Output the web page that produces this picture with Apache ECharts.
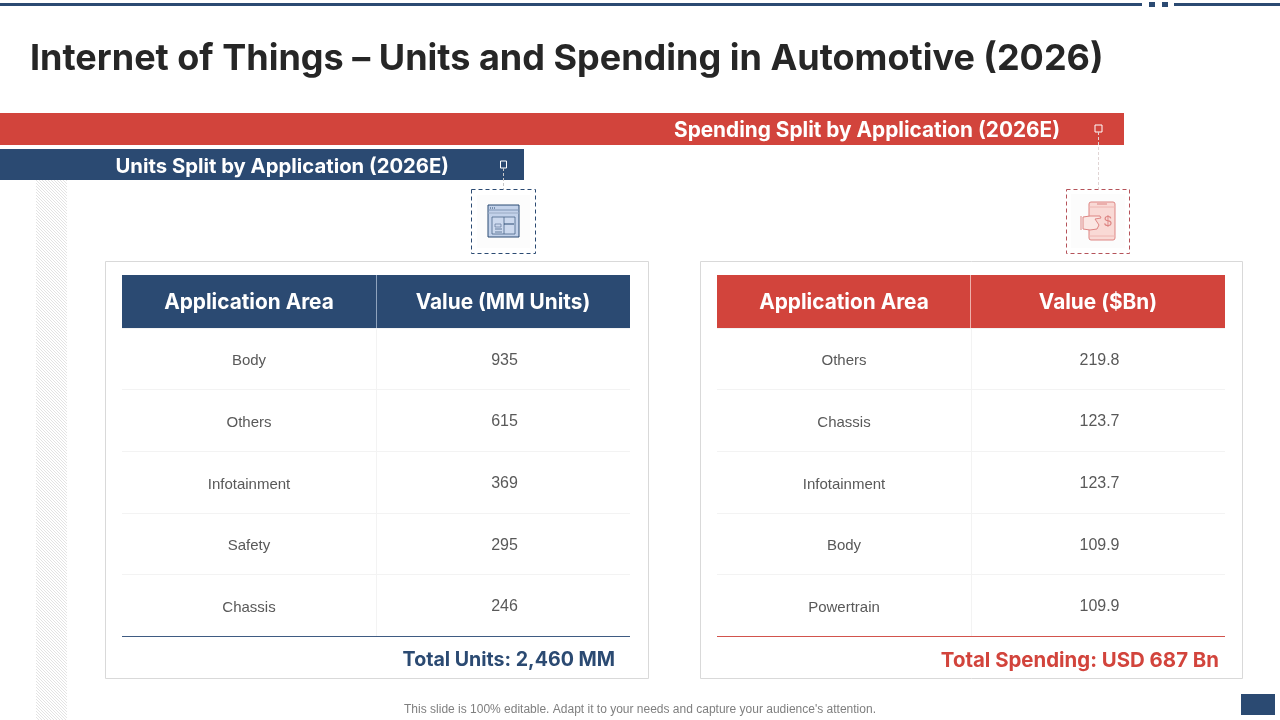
<!DOCTYPE html>
<html>
<head>
<meta charset="utf-8">
<title>Internet of Things - Units and Spending in Automotive</title>
<script src="https://cdn.jsdelivr.net/npm/echarts@6/dist/echarts.min.js"></script>
<style>
html, body { margin: 0; padding: 0; background: #fff; }
#mainChart { width: 1280px; height: 720px; }
</style>
</head>
<body>
<div id="mainChart"></div>
<script>
var unitAreas = ['Body', 'Others', 'Infotainment', 'Safety', 'Chassis'];
var unitValues = ['935', '615', '369', '295', '246'];
var unitHeaders = ['Application Area', 'Value (MM Units)'];
var unitTotal = 'Total Units: 2,460 MM';
var unitBanner = 'Units Split by Application (2026E)';

var spendAreas = ['Others', 'Chassis', 'Infotainment', 'Body', 'Powertrain'];
var spendValues = ['219.8', '123.7', '123.7', '109.9', '109.9'];
var spendHeaders = ['Application Area', 'Value ($Bn)'];
var spendTotal = 'Total Spending: USD 687 Bn';
var spendBanner = 'Spending Split by Application (2026E)';

var titleText = 'Internet of Things \u2013 Units and Spending in Automotive (2026)';
var footerText = "This slide is 100% editable. Adapt it to your needs and capture your audience's attention.";

var BLUE = '#2b4a72';
var RED = '#d2443c';
var HEAD_FONT = 'Inter, "Open Sans", sans-serif';
var BODY_FONT = '"Liberation Sans", Arial, sans-serif';

// diagonal hatch used by the band on the left
function hatchPattern() {
    var c = document.createElement('canvas');
    c.width = 3;
    c.height = 3;
    var ctx = c.getContext('2d');
    ctx.fillStyle = '#ffffff';
    ctx.fillRect(0, 0, 3, 3);
    ctx.strokeStyle = '#dcdcdc';
    ctx.lineWidth = 0.8;
    ctx.beginPath();
    ctx.moveTo(-1, -1); ctx.lineTo(4, 4);
    ctx.moveTo(-1, 2); ctx.lineTo(1, 4);
    ctx.moveTo(2, -1); ctx.lineTo(4, 1);
    ctx.stroke();
    return { image: c, repeat: 'repeat' };
}

function rect(x, y, w, h, style, z) {
    return { type: 'rect', shape: { x: x, y: y, width: w, height: h }, style: style, z: z === undefined ? -1 : z, silent: true };
}
function line(x1, y1, x2, y2, color, width, dash, z) {
    var style = { stroke: color, lineWidth: width };
    if (dash) style.lineDash = dash;
    return { type: 'line', shape: { x1: x1, y1: y1, x2: x2, y2: y2 }, style: style, z: z === undefined ? 5 : z, silent: true };
}
function label(x, y, str, color, size, weight, family, align) {
    return {
        type: 'text', x: x, y: y, z: 6, silent: true,
        style: { text: str, fill: color, fontSize: size, fontWeight: weight, fontFamily: family, align: align, verticalAlign: 'middle' }
    };
}

// one table: rows on a category y axis, columns on a category x axis
function tableGrid(index, left, headers, rows) {
    return {
        grid: { left: left, top: 328, width: 508, height: 308 },
        xAxis: {
            type: 'category', gridIndex: index, position: 'top', data: headers,
            axisLine: { show: false }, axisTick: { show: false },
            axisLabel: { color: '#ffffff', fontSize: 20.8, fontWeight: 700, fontFamily: HEAD_FONT, margin: 25, verticalAlign: 'middle' },
            splitLine: { show: true, showMinLine: false, showMaxLine: false, lineStyle: { color: '#f3f3f3', width: 1 } }
        },
        yAxis: {
            type: 'category', gridIndex: index, inverse: true, data: rows,
            axisLine: { show: false }, axisTick: { show: false }, axisLabel: { show: false },
            splitLine: { show: true, lineStyle: { color: '#f3f3f3', width: 1 } }
        }
    };
}

function renderCell(params, api) {
    var p = api.coord([api.value(0), api.value(1)]);
    var isArea = api.value(0) === 0;
    return {
        type: 'text', x: p[0] + (isArea ? 0 : 1.5), y: p[1] + (isArea ? 2.5 : 1.5),
        style: {
            text: api.value(2), fill: '#595959', fontSize: isArea ? 15 : 16, fontFamily: BODY_FONT,
            align: 'center', verticalAlign: 'middle'
        }
    };
}

function cellData(areas, values) {
    var out = [];
    for (var i = 0; i < areas.length; i++) {
        out.push([0, i, areas[i]]);
        out.push([1, i, values[i]]);
    }
    return out;
}

function tableSeries(index, areas, values) {
    return {
        type: 'custom', xAxisIndex: index, yAxisIndex: index, silent: true,
        encode: { x: 0, y: 1 },
        renderItem: renderCell,
        data: cellData(areas, values)
    };
}

function blueIcon() {
    var fill = '#c3d2ea';
    return [
        rect(488, 205, 31, 32, { fill: fill, stroke: BLUE, lineWidth: 1 }, 4),
        line(488, 210, 519, 210, '#7f94b3', 1),
        line(488, 213, 519, 213, '#9aabc4', 1),
        line(490, 208, 496, 208, BLUE, 1, [1, 1]),
        rect(492, 217, 23, 17, { fill: '#ccd9ee', stroke: '#4a6488', lineWidth: 0.8 }, 5),
        line(504, 217, 504, 234, '#4a6488', 0.8),
        line(504, 224, 514, 224, BLUE, 1),
        rect(495, 224, 6, 3, { fill: 'none', stroke: '#5f7799', lineWidth: 0.7 }, 5),
        line(495, 229, 502, 229, '#4a6488', 0.8),
        line(495, 232, 502, 232, '#4a6488', 0.8)
    ];
}

function redIcon() {
    var edge = '#dd8583';
    return [
        { type: 'rect', shape: { x: 1089, y: 202, width: 26, height: 38, r: 2 }, style: { fill: '#f9d9d5', stroke: edge, lineWidth: 1 }, z: 4, silent: true },
        line(1097, 204, 1107, 204, edge, 1),
        line(1089, 207, 1115, 207, '#eeb6b2', 1),
        line(1089, 236, 1115, 236, '#eeb6b2', 1),
        { type: 'polygon', shape: { points: [[1083, 217], [1090, 216], [1100, 216], [1101, 218], [1095, 219], [1099, 225], [1097, 229], [1090, 230], [1083, 229]] }, style: { fill: '#fbe6e3', stroke: edge, lineWidth: 1 }, z: 5, silent: true },
        line(1081, 216, 1081, 230, edge, 1),
        label(1108, 222, '$', edge, 14, 'normal', BODY_FONT, 'center')
    ];
}

function buildGraphics() {
    var g = [
        // top rule and page furniture
        rect(0, 3, 1142, 3, { fill: BLUE }),
        rect(1149, 2, 6, 5, { fill: BLUE }),
        rect(1162, 2, 6, 5, { fill: BLUE }),
        rect(1174, 3, 106, 3, { fill: BLUE }),
        rect(1241, 694, 34, 21, { fill: BLUE }),
        rect(36, 180, 31, 540, { fill: hatchPattern() }),

        // banners
        rect(0, 113, 1124, 32, { fill: RED }),
        rect(0, 149, 524, 31, { fill: BLUE }),
        label(1060, 131, spendBanner, '#ffffff', 20.8, 700, HEAD_FONT, 'right'),
        label(449, 167, unitBanner, '#ffffff', 20.3, 700, HEAD_FONT, 'right'),

        // connectors from the banners to the icons
        rect(500.5, 161, 6, 7, { fill: 'none', stroke: '#ffffff', lineWidth: 1 }, 5),
        line(503.5, 168, 503.5, 189, '#c8c8c8', 1, [3, 2]),
        rect(1095, 125, 7, 7, { fill: 'none', stroke: '#ffffff', lineWidth: 1 }, 5),
        line(1098.5, 132, 1098.5, 189, '#e0d4d4', 1, [3, 2]),

        // icon frames
        rect(471.5, 189.5, 64, 64, { fill: 'none', stroke: BLUE, lineWidth: 1, lineDash: [4, 3] }, 3),
        rect(477, 195, 53, 53, { fill: '#fcfcfc' }, 2),
        rect(1066.5, 189.5, 63, 64, { fill: 'none', stroke: '#b5535a', lineWidth: 1, lineDash: [4, 3] }, 3),
        rect(1071, 194, 54, 54, { fill: '#fcfcfc' }, 2),

        // panels
        rect(105.5, 261.5, 543, 417, { fill: '#ffffff', stroke: '#d9d9d9', lineWidth: 1 }, -2),
        rect(700.5, 261.5, 542, 417, { fill: '#ffffff', stroke: '#d9d9d9', lineWidth: 1 }, -2),

        // table heads and closing rules
        rect(122, 275, 508, 53, { fill: BLUE }),
        rect(717, 275, 508, 53, { fill: RED }),
        line(376.5, 275, 376.5, 328, '#8fa3bd', 1),
        line(970.5, 275, 970.5, 328, '#eeb0ab', 1),
        line(122, 636.5, 630, 636.5, '#3f5b82', 1),
        line(717, 636.5, 1225, 636.5, '#d2544d', 1),

        label(615, 660.5, unitTotal, BLUE, 19.6, 700, HEAD_FONT, 'right'),
        label(1219, 660.5, spendTotal, RED, 20.4, 700, HEAD_FONT, 'right'),
        label(640, 710, footerText, '#7f7f7f', 12, 'normal', BODY_FONT, 'center')
    ];
    return g.concat(blueIcon(), redIcon());
}

var left = tableGrid(0, 122, unitHeaders, unitAreas);
var right = tableGrid(1, 717, spendHeaders, spendAreas);

var option = {
    animation: false,
    title: {
        text: titleText, left: 30, top: 41, padding: 0,
        textStyle: { color: '#262626', fontSize: 36, fontWeight: 700, fontFamily: HEAD_FONT }
    },
    grid: [left.grid, right.grid],
    xAxis: [left.xAxis, right.xAxis],
    yAxis: [left.yAxis, right.yAxis],
    series: [
        tableSeries(0, unitAreas, unitValues),
        tableSeries(1, spendAreas, spendValues)
    ],
    graphic: { elements: buildGraphics() }
};

var mainChart = echarts.init(document.getElementById('mainChart'));
mainChart.setOption(option);
</script>
</body>
</html>
